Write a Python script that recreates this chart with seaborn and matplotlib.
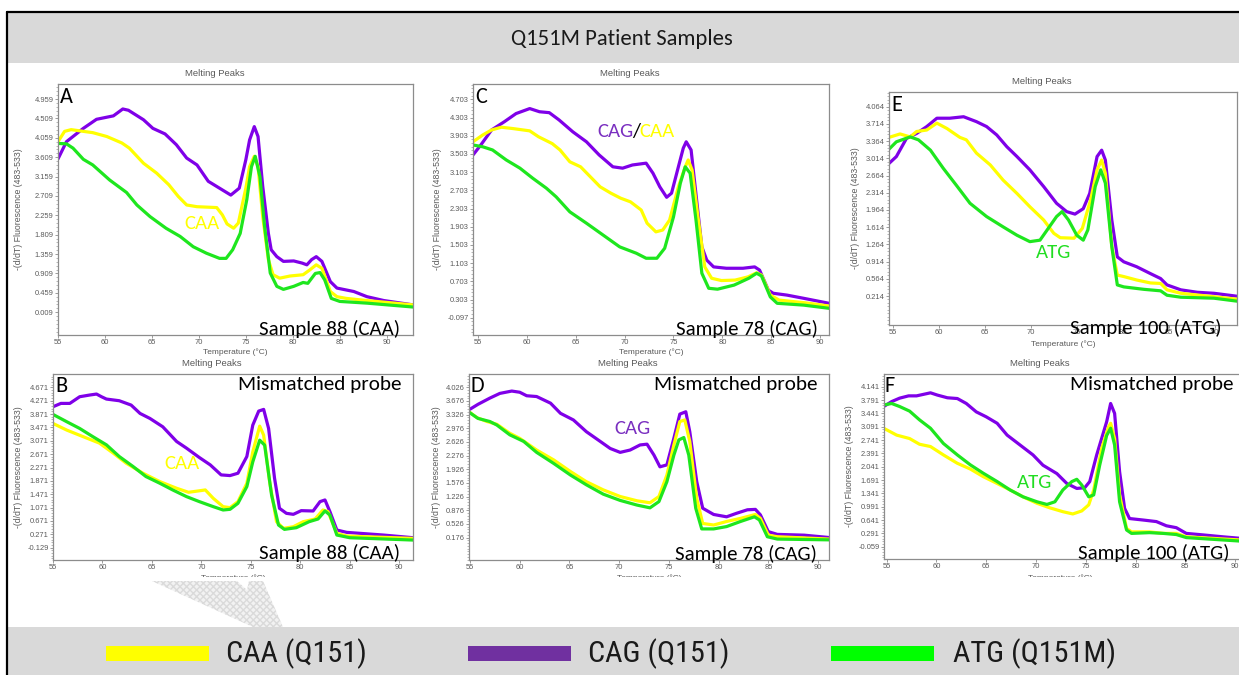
import matplotlib
matplotlib.use("Agg")
import matplotlib.pyplot as plt
import seaborn as sns
from matplotlib import font_manager
from matplotlib.patches import Rectangle, Polygon
from matplotlib.lines import Line2D
from matplotlib.transforms import Affine2D, offset_copy
from matplotlib.ticker import AutoMinorLocator, FixedLocator

# ---------------------------------------------------------------- data
# Melting-peak traces: (temperature °C, -(d/dT) fluorescence)
A_CAG = [(55.0, 3.57), (55.9, 3.97), (57.7, 4.28), (59.1, 4.49), (60.9, 4.57), (61.9, 4.73), (62.5, 4.70),
         (64.1, 4.48), (65.1, 4.28), (66.4, 4.15), (67.6, 3.90), (68.7, 3.59), (69.8, 3.43), (71.0, 3.05),
         (72.2, 2.89), (73.4, 2.73), (74.3, 2.89), (75.0, 3.55), (75.4, 4.01), (75.9, 4.32), (76.3, 4.09),
         (76.8, 2.93), (77.4, 1.84), (77.7, 1.46), (78.3, 1.30), (79.0, 1.19), (80.1, 1.20), (81.0, 1.15),
         (81.5, 1.11), (82.0, 1.23), (82.5, 1.30), (83.1, 1.19), (84.0, 0.72), (84.7, 0.57), (86.5, 0.49),
         (87.9, 0.37), (89.7, 0.28), (92.8, 0.18)]
A_CAA = [(55.0, 3.97), (55.7, 4.21), (56.4, 4.25), (57.7, 4.21), (58.7, 4.18), (60.2, 4.09), (61.8, 3.94),
         (62.6, 3.82), (64.1, 3.47), (65.5, 3.24), (66.8, 2.97), (67.8, 2.70), (68.7, 2.50), (69.8, 2.46),
         (71.9, 2.44), (72.5, 2.27), (73.0, 2.06), (73.7, 1.96), (74.2, 2.08), (75.0, 2.89), (75.4, 3.39),
         (75.9, 3.63), (76.3, 3.39), (76.8, 2.23), (77.4, 1.23), (77.9, 0.88), (78.6, 0.80), (79.7, 0.85),
         (81.1, 0.88), (81.8, 0.99), (82.5, 1.11), (83.1, 1.03), (84.0, 0.49), (84.7, 0.37), (85.7, 0.33),
         (87.9, 0.28), (92.8, 0.18)]
A_ATG = [(55.0, 3.93), (55.9, 3.92), (56.6, 3.82), (57.7, 3.56), (58.7, 3.43), (60.5, 3.08), (62.3, 2.79),
         (63.4, 2.50), (64.8, 2.23), (66.5, 1.96), (68.0, 1.77), (69.4, 1.53), (70.8, 1.38), (72.2, 1.26),
         (72.9, 1.26), (73.6, 1.46), (74.4, 1.84), (75.1, 2.62), (75.6, 3.39), (76.0, 3.63), (76.5, 3.16),
         (77.0, 2.00), (77.6, 0.92), (78.3, 0.61), (79.0, 0.54), (80.1, 0.61), (81.1, 0.70), (81.6, 0.68),
         (82.4, 0.91), (82.9, 0.93), (83.4, 0.76), (84.1, 0.33), (85.0, 0.26), (87.9, 0.22), (92.8, 0.13)]

C_CAG = [(54.5, 3.48), (55.3, 3.70), (56.4, 4.03), (57.7, 4.21), (58.9, 4.39), (60.3, 4.50), (61.3, 4.43),
         (62.3, 4.41), (63.3, 4.25), (64.7, 3.99), (66.1, 3.77), (67.4, 3.48), (68.8, 3.22), (69.8, 3.19),
         (70.8, 3.26), (72.2, 3.30), (72.9, 3.08), (73.6, 2.78), (74.3, 2.55), (74.8, 2.64), (75.5, 3.22),
         (76.0, 3.63), (76.3, 3.77), (76.8, 3.59), (77.4, 2.42), (77.9, 1.46), (78.4, 1.17), (79.1, 1.02),
         (80.4, 0.99), (82.1, 0.99), (83.3, 1.02), (83.8, 0.95), (84.7, 0.51), (85.2, 0.44), (86.6, 0.40),
         (88.3, 0.33), (90.9, 0.22)]
C_CAA = [(54.5, 3.77), (55.5, 3.92), (56.4, 4.03), (57.4, 4.09), (58.6, 4.06), (60.3, 4.01), (61.2, 3.88),
         (62.6, 3.73), (63.4, 3.59), (64.4, 3.33), (65.5, 3.22), (66.5, 3.00), (67.5, 2.78), (68.6, 2.64),
         (69.6, 2.53), (70.6, 2.45), (71.7, 2.27), (72.3, 1.98), (73.2, 1.79), (73.9, 1.83), (74.6, 2.05),
         (75.5, 2.78), (76.2, 3.22), (76.5, 3.37), (76.9, 3.15), (77.5, 2.12), (78.2, 1.02), (78.9, 0.77),
         (79.9, 0.72), (81.3, 0.73), (82.6, 0.80), (83.5, 0.89), (84.0, 0.84), (84.9, 0.40), (85.8, 0.29),
         (88.5, 0.23), (90.9, 0.16)]
C_ATG = [(54.5, 3.70), (55.5, 3.66), (56.5, 3.59), (57.9, 3.37), (59.3, 3.19), (60.6, 2.97), (62.0, 2.75),
         (63.0, 2.56), (64.4, 2.23), (66.1, 1.98), (67.8, 1.72), (69.5, 1.46), (71.2, 1.32), (72.2, 1.21),
         (73.3, 1.21), (74.1, 1.43), (75.0, 2.12), (75.7, 2.86), (76.2, 3.22), (76.7, 3.08), (77.3, 2.05),
         (77.9, 0.88), (78.6, 0.55), (79.5, 0.53), (81.2, 0.62), (82.7, 0.77), (83.5, 0.88), (84.0, 0.82),
         (84.9, 0.36), (85.6, 0.22), (88.3, 0.18), (90.9, 0.11)]

E_CAG = [(54.6, 2.91), (55.4, 3.05), (56.5, 3.42), (57.6, 3.52), (58.7, 3.66), (59.8, 3.83), (61.2, 3.83),
         (62.7, 3.86), (64.1, 3.76), (65.2, 3.66), (66.3, 3.49), (67.4, 3.25), (68.5, 3.05), (69.9, 2.78),
         (71.4, 2.44), (72.8, 2.10), (73.9, 1.93), (74.8, 1.88), (75.7, 1.99), (76.4, 2.30), (77.2, 3.05),
         (77.7, 3.18), (78.1, 2.98), (78.8, 1.76), (79.4, 1.01), (80.1, 0.91), (81.5, 0.81), (83.0, 0.67),
         (84.1, 0.57), (84.8, 0.44), (86.3, 0.34), (88.1, 0.29), (89.9, 0.27), (92.4, 0.21)]
E_CAA = [(54.6, 3.44), (55.8, 3.51), (56.9, 3.45), (57.6, 3.56), (58.7, 3.59), (59.8, 3.73), (60.9, 3.62),
         (62.3, 3.44), (63.0, 3.39), (64.1, 3.12), (65.6, 2.88), (67.0, 2.57), (68.5, 2.30), (69.9, 2.03),
         (71.4, 1.76), (72.5, 1.49), (73.2, 1.40), (74.7, 1.39), (75.6, 1.59), (76.5, 2.17), (77.2, 2.78),
         (77.7, 2.98), (78.1, 2.71), (78.8, 1.22), (79.4, 0.64), (80.1, 0.61), (81.5, 0.54), (83.0, 0.48),
         (84.1, 0.47), (84.8, 0.34), (86.3, 0.27), (89.9, 0.20), (92.4, 0.15)]
E_ATG = [(54.6, 3.20), (55.4, 3.35), (56.9, 3.45), (57.8, 3.39), (59.1, 3.18), (60.5, 2.81), (61.9, 2.47),
         (63.4, 2.10), (65.2, 1.83), (67.0, 1.62), (68.5, 1.45), (69.9, 1.32), (71.0, 1.35), (71.9, 1.59),
         (72.8, 1.83), (73.4, 1.93), (74.1, 1.76), (75.0, 1.45), (75.7, 1.35), (76.2, 1.56), (77.0, 2.44),
         (77.6, 2.78), (78.1, 2.51), (78.8, 1.22), (79.4, 0.44), (80.1, 0.40), (82.3, 0.35), (84.1, 0.32),
         (84.8, 0.23), (86.3, 0.19), (89.9, 0.17), (92.4, 0.11)]

B_CAG = [(55.0, 4.09), (55.8, 4.19), (56.7, 4.19), (57.7, 4.39), (58.7, 4.44), (59.4, 4.47), (59.9, 4.39),
         (60.4, 4.32), (61.7, 4.27), (62.9, 4.14), (63.8, 3.89), (64.8, 3.74), (66.1, 3.49), (67.5, 3.05),
         (68.5, 2.85), (69.8, 2.57), (70.9, 2.35), (72.0, 2.05), (72.9, 2.03), (73.7, 2.10), (74.6, 2.60),
         (75.2, 3.54), (75.8, 3.96), (76.3, 4.01), (76.8, 3.44), (77.4, 1.95), (77.9, 1.05), (78.6, 0.90),
         (79.3, 0.87), (80.1, 0.98), (81.3, 0.97), (82.0, 1.25), (82.5, 1.30), (83.0, 0.95), (83.7, 0.40),
         (84.7, 0.33), (88.4, 0.25), (91.4, 0.17)]
B_CAA = [(55.0, 3.59), (56.4, 3.39), (58.0, 3.20), (59.7, 3.00), (61.1, 2.70), (62.4, 2.40), (64.1, 2.10),
         (65.8, 1.85), (67.5, 1.65), (68.7, 1.53), (69.7, 1.57), (70.4, 1.60), (71.2, 1.35), (72.2, 1.10),
         (72.9, 1.07), (73.7, 1.25), (74.6, 1.80), (75.2, 2.74), (75.9, 3.51), (76.3, 3.24), (76.9, 1.85),
         (77.6, 0.65), (78.3, 0.45), (79.3, 0.50), (80.3, 0.65), (81.5, 0.73), (82.3, 1.00), (82.8, 0.95),
         (83.7, 0.30), (84.7, 0.22), (91.4, 0.15)]
B_ATG = [(55.0, 3.86), (56.4, 3.64), (57.7, 3.44), (59.0, 3.20), (60.4, 2.95), (61.7, 2.60), (63.1, 2.30),
         (64.4, 2.00), (65.8, 1.80), (67.1, 1.60), (68.5, 1.40), (69.8, 1.25), (71.2, 1.10), (72.2, 1.00),
         (72.9, 1.02), (73.7, 1.20), (74.6, 1.70), (75.2, 2.44), (75.9, 3.09), (76.4, 2.94), (77.1, 1.45),
         (77.8, 0.55), (78.4, 0.42), (79.6, 0.47), (80.9, 0.65), (81.8, 0.73), (82.5, 0.97), (83.0, 0.85),
         (83.7, 0.25), (85.0, 0.17), (91.4, 0.10)]

D_CAG = [(54.9, 3.45), (55.8, 3.59), (57.0, 3.75), (58.0, 3.87), (59.2, 3.93), (60.0, 3.90), (60.7, 3.81),
         (61.7, 3.79), (63.1, 3.62), (64.1, 3.36), (65.4, 3.19), (66.7, 2.89), (68.1, 2.64), (69.1, 2.46),
         (70.1, 2.36), (71.1, 2.42), (72.1, 2.55), (72.8, 2.57), (73.5, 2.29), (74.1, 1.99), (74.8, 2.04),
         (75.5, 2.72), (76.1, 3.34), (76.7, 3.40), (77.1, 2.89), (77.8, 1.61), (78.4, 0.93), (79.5, 0.77),
         (80.8, 0.71), (81.8, 0.80), (82.9, 0.89), (83.7, 0.90), (84.2, 0.76), (85.0, 0.33), (85.9, 0.26),
         (88.6, 0.24), (91.1, 0.18)]
D_CAA = [(54.9, 3.40), (55.7, 3.25), (56.7, 3.15), (57.7, 3.08), (59.0, 2.85), (60.0, 2.72), (61.7, 2.42),
         (63.4, 2.17), (65.1, 1.87), (66.7, 1.61), (68.4, 1.40), (70.1, 1.23), (71.8, 1.12), (73.1, 1.07),
         (74.0, 1.23), (74.8, 1.78), (75.5, 2.55), (76.1, 3.15), (76.6, 3.19), (77.1, 2.64), (77.8, 1.18),
         (78.4, 0.54), (79.5, 0.50), (80.8, 0.59), (82.2, 0.67), (83.7, 0.77), (84.2, 0.67), (85.0, 0.24),
         (85.9, 0.20), (91.1, 0.14)]
D_ATG = [(54.9, 3.39), (55.8, 3.23), (57.0, 3.15), (57.7, 3.06), (59.0, 2.81), (60.4, 2.64), (61.7, 2.36),
         (63.4, 2.08), (65.1, 1.78), (66.7, 1.53), (68.4, 1.29), (70.1, 1.13), (71.8, 1.01), (73.1, 0.94),
         (74.0, 1.10), (74.8, 1.61), (75.5, 2.29), (76.0, 2.68), (76.5, 2.74), (77.0, 2.29), (77.7, 0.93),
         (78.3, 0.40), (79.5, 0.40), (80.8, 0.46), (82.2, 0.59), (83.6, 0.71), (84.1, 0.63), (84.9, 0.20),
         (85.9, 0.14), (91.1, 0.12)]

F_CAG = [(54.7, 3.62), (55.5, 3.75), (56.3, 3.84), (57.2, 3.90), (58.0, 3.90), (58.7, 3.94), (59.4, 3.98),
         (60.1, 3.92), (61.1, 3.85), (62.1, 3.83), (63.0, 3.70), (64.0, 3.48), (65.0, 3.35), (66.1, 3.18),
         (67.1, 2.87), (68.4, 2.61), (69.7, 2.35), (70.7, 2.08), (72.1, 1.86), (73.1, 1.60), (74.1, 1.47),
         (74.9, 1.49), (75.4, 1.65), (76.1, 2.35), (77.1, 3.22), (77.5, 3.70), (77.9, 3.44), (78.4, 1.91),
         (78.9, 0.95), (79.4, 0.68), (80.8, 0.64), (82.1, 0.60), (83.1, 0.49), (84.1, 0.44), (85.1, 0.29),
         (86.8, 0.25), (88.8, 0.20), (91.0, 0.15)]
F_CAA = [(54.7, 3.05), (56.0, 2.87), (57.3, 2.78), (58.3, 2.63), (59.4, 2.57), (60.7, 2.35), (62.1, 2.13),
         (63.4, 1.98), (64.7, 1.78), (66.1, 1.60), (67.4, 1.43), (68.7, 1.25), (70.1, 1.08), (71.4, 0.96),
         (72.7, 0.86), (73.7, 0.80), (74.6, 0.88), (75.3, 1.04), (75.8, 1.43), (76.6, 2.52), (77.3, 3.09),
         (77.5, 3.18), (77.9, 2.78), (78.4, 1.30), (79.1, 0.42), (79.6, 0.33), (81.4, 0.33), (82.8, 0.29),
         (84.1, 0.29), (85.1, 0.20), (91.0, 0.11)]
F_ATG = [(54.7, 3.66), (55.5, 3.70), (56.3, 3.62), (57.3, 3.50), (58.3, 3.27), (59.4, 3.05), (60.7, 2.65),
         (62.1, 2.35), (63.4, 2.09), (64.7, 1.87), (66.1, 1.65), (67.4, 1.43), (68.7, 1.25), (70.1, 1.12),
         (71.1, 1.05), (71.9, 1.12), (72.7, 1.43), (73.6, 1.65), (74.1, 1.71), (74.6, 1.56), (75.3, 1.25),
         (75.8, 1.30), (76.4, 2.08), (77.1, 2.86), (77.5, 3.05), (77.9, 2.61), (78.4, 1.12), (79.1, 0.38),
         (79.6, 0.29), (81.4, 0.31), (82.8, 0.29), (84.1, 0.26), (85.1, 0.18), (91.0, 0.08)]

# axis tick values
X_TICKS = [55, 60, 65, 70, 75, 80, 85, 90]
A_YTICKS = [0.009, 0.459, 0.909, 1.359, 1.809, 2.259, 2.709, 3.159, 3.609, 4.059, 4.509, 4.959]
C_YTICKS = [-0.097, 0.303, 0.703, 1.103, 1.503, 1.903, 2.303, 2.703, 3.103, 3.503, 3.903, 4.303, 4.703]
E_YTICKS = [0.214, 0.564, 0.914, 1.264, 1.614, 1.964, 2.314, 2.664, 3.014, 3.364, 3.714, 4.064]
B_YTICKS = [-0.129, 0.271, 0.671, 1.071, 1.471, 1.871, 2.271, 2.671, 3.071, 3.471, 3.871, 4.271, 4.671]
D_YTICKS = [0.176, 0.526, 0.876, 1.226, 1.576, 1.926, 2.276, 2.626, 2.976, 3.326, 3.676, 4.026]
F_YTICKS = [-0.059, 0.291, 0.641, 0.991, 1.341, 1.691, 2.041, 2.391, 2.741, 3.091, 3.441, 3.791, 4.141]

GENOTYPES = ["CAA (Q151)", "CAG (Q151)", "ATG (Q151M)"]
TITLE = "Q151M Patient Samples"

# ---------------------------------------------------------------- fonts
sns.set_theme(style="white")
names = {f.name for f in font_manager.fontManager.ttflist}


def pick(*cands):
    for c in cands:
        if c in names:
            return c
    return "DejaVu Sans"


# humanist face for captions, condensed face for the legend
CAP = pick("Carlito", "Lato", "Liberation Sans")
COND = pick("Roboto Condensed", "Liberation Sans Narrow", "Lato")
CAP_K = {"Carlito": 1.0, "Lato": 0.92}.get(CAP, 0.85)
COND_PT = {"Roboto Condensed": 21.8, "Liberation Sans Narrow": 22.5, "Lato": 20.5}.get(COND, 18)

plt.rcParams["font.family"] = ["Liberation Sans", "DejaVu Sans"]
plt.rcParams["axes.unicode_minus"] = False

CURVE = {"CAG": "#7f00e8", "CAA": "#ffff00", "ATG": "#1ee61e"}
TEXTC = {"CAG": "#7a2fc0", "CAA": "#ffff00", "ATG": "#22dd22"}
SWATCH = ["#ffff00", "#7030a0", "#00ff00"]
GREY_TXT = "#5a5a5a"
BAND = "#d9d9d9"

W, H = 1239, 675
fig = plt.figure(figsize=(W / 100, H / 100), dpi=100)
fig.patch.set_facecolor("white")
PX = Affine2D().scale(1 / W, -1 / H).translate(0, 1) + fig.transFigure


def px_rect(l, t, r, b):
    return [l / W, 1 - b / H, (r - l) / W, (b - t) / H]


panels = [
    dict(rect=(58, 84, 413, 335), xlim=(55, 92.8), ylim=(-0.52, 5.31), yt=A_YTICKS,
         series=(A_CAG, A_CAA, A_ATG), letter="A", letter_xy=(60, 103),
         sample="Sample 88 (CAA)", sample_xy=(400, 335), mism=None, pad=8, xlab=352,
         note=[("CAA", "CAA", 70.35, 2.06)]),
    dict(rect=(473, 84, 829, 335), xlim=(54.5, 90.9), ylim=(-0.477, 5.04), yt=C_YTICKS,
         series=(C_CAG, C_CAA, C_ATG), letter="C", letter_xy=(475, 103),
         sample="Sample 78 (CAG)", sample_xy=(818, 335), mism=None, pad=4, xlab=352,
         note="slash"),
    dict(rect=(889, 92, 1237, 325), xlim=(54.6, 92.4), ylim=(-0.375, 4.363), yt=E_YTICKS,
         series=(E_CAG, E_CAA, E_ATG), letter="E", letter_xy=(891, 111),
         sample="Sample 100 (ATG)", sample_xy=(1222, 334), mism=None, pad=4, xlab=344,
         note=[("ATG", "ATG", 72.5, 1.10)]),
    dict(rect=(53, 374, 413, 560), xlim=(55, 91.4), ylim=(-0.497, 5.07), yt=B_YTICKS,
         series=(B_CAG, B_CAA, B_ATG), letter="B", letter_xy=(55, 392),
         sample="Sample 88 (CAA)", sample_xy=(400, 559), mism=(402, 390), pad=3, xlab=578,
         note=[("CAA", "CAA", 68.0, 2.40)]),
    dict(rect=(469, 374, 829, 560), xlim=(54.9, 91.1), ylim=(-0.396, 4.367), yt=D_YTICKS,
         series=(D_CAG, D_CAA, D_ATG), letter="D", letter_xy=(470, 392),
         sample="Sample 78 (CAG)", sample_xy=(817, 560), mism=(818, 390), pad=3, xlab=578,
         note=[("CAG", "CAG", 71.3, 2.96)]),
    dict(rect=(884, 374, 1245, 559), xlim=(54.73, 91.0), ylim=(-0.382, 4.474), yt=F_YTICKS,
         series=(F_CAG, F_CAA, F_ATG), letter="F", letter_xy=(884, 392),
         sample="Sample 100 (ATG)", sample_xy=(1230, 559), mism=(1233, 390), pad=3, xlab=578,
         note=[("ATG", "ATG", 69.9, 1.63)]),
]

for p in panels:
    l, t, r, b = p["rect"]
    ax = fig.add_axes(px_rect(l, t, r, b))
    ax.set_facecolor("white")
    for key, trace in zip(("CAG", "CAA", "ATG"), p["series"]):
        temps, vals = zip(*trace)
        sns.lineplot(x=list(temps), y=list(vals), ax=ax, color=CURVE[key], lw=2.3,
                     sort=False, estimator=None, legend=False,
                     solid_joinstyle="round", solid_capstyle="round")
    ax.set_xlim(*p["xlim"])
    ax.set_ylim(*p["ylim"])
    ax.xaxis.set_major_locator(FixedLocator(X_TICKS))
    ax.set_xticklabels([str(v) for v in X_TICKS])
    ax.yaxis.set_major_locator(FixedLocator(p["yt"]))
    ax.set_yticklabels([f"{v:.3f}" for v in p["yt"]])
    ax.yaxis.set_minor_locator(AutoMinorLocator(5))
    ax.tick_params(axis="both", which="major", bottom=True, left=True, length=2.2, width=0.6,
                   color="#8c8c8c", labelsize=5.4, labelcolor=GREY_TXT, pad=1)
    ax.tick_params(axis="y", which="minor", left=True, length=1.2, width=0.5, color="#9a9a9a")
    for s in ax.spines.values():
        s.set_color("#8c8c8c")
        s.set_linewidth(0.9)
    ax.set_ylabel("-(d/dT) Fluorescence (483-533)", fontsize=6.3, color=GREY_TXT, labelpad=p["pad"])
    ax.set_xlabel("")
    mid = (l + min(r, 1237)) / 2
    fig.text(mid - 21, t - 8, "Melting Peaks", transform=PX, ha="center",
             va="baseline", fontsize=6.8, color=GREY_TXT)
    fig.text(mid, p["xlab"], "Temperature (°C)", transform=PX, ha="center",
             va="center", fontsize=6, color=GREY_TXT, zorder=0.8)

    # panel letter and captions
    fig.text(*p["letter_xy"], p["letter"], transform=PX, ha="left", va="baseline",
             fontsize=16 * CAP_K, family=CAP, color="black", zorder=5)
    fig.text(*p["sample_xy"], p["sample"], transform=PX, ha="right", va="baseline",
             fontsize=15 * CAP_K, family=CAP, color="black", zorder=5)
    if p["mism"] is not None:
        fig.text(*p["mism"], "Mismatched probe", transform=PX, ha="right", va="baseline",
                 fontsize=15.3 * CAP_K, family=CAP, color="black", zorder=5)

    if p["note"] == "slash":
        x0, y0 = 71.22, 3.99
        fs = 15 * CAP_K
        ax.text(x0, y0, "/", color="black", fontsize=fs, family=CAP, ha="center", va="center")
        ax.text(x0, y0, "CAG", color=TEXTC["CAG"], fontsize=fs, family=CAP, ha="right", va="center",
                transform=offset_copy(ax.transData, fig=fig, x=-2.3, y=0, units="points"))
        ax.text(x0, y0, "CAA", color=TEXTC["CAA"], fontsize=fs, family=CAP, ha="left", va="center",
                transform=offset_copy(ax.transData, fig=fig, x=2.3, y=0, units="points"))
    else:
        for txt, key, x0, y0 in p["note"]:
            ax.text(x0, y0, txt, color=TEXTC[key], fontsize=15 * CAP_K, family=CAP,
                    ha="center", va="center")

# lower x-axis captions are cut off by the blank strip above the legend
fig.add_artist(Rectangle((8, 577), 1231, 50, transform=PX, facecolor="white",
                         edgecolor="none", zorder=1))
fig.add_artist(Polygon([(152, 581), (237, 581), (247, 590), (249, 581), (263, 581),
                        (283, 627), (253, 627)], closed=True,
                       transform=PX, facecolor="#f2f2f2", edgecolor="#dadada", hatch="xxxxx",
                       linewidth=0, zorder=1.5))

# title band and legend band
fig.add_artist(Rectangle((8, 13), 1231, 50, transform=PX, facecolor=BAND, edgecolor="none", zorder=0.5))
fig.add_artist(Rectangle((8, 627), 1231, 48, transform=PX, facecolor=BAND, edgecolor="none", zorder=0.5))
fig.text(622, 45, TITLE, transform=PX, ha="center", va="baseline", fontsize=16.3 * CAP_K,
         family=CAP, color="#1a1a1a", zorder=3)

swatch_x = [106, 468, 831]
label_x = [226, 588, 953]
for sx, lx, col, lab in zip(swatch_x, label_x, SWATCH, GENOTYPES):
    fig.add_artist(Rectangle((sx, 646), 103, 15, transform=PX, facecolor=col,
                             edgecolor="none", zorder=2))
    fig.text(lx, 654, lab, transform=PX, ha="left", va="center", fontsize=COND_PT,
             family=COND, color="#1a1a1a", zorder=3)

# outer frame (top and left edges)
fig.add_artist(Line2D([7, 7], [12, 675], transform=PX, color="black", lw=1.6, zorder=4))
fig.add_artist(Line2D([7, 1239], [12, 12], transform=PX, color="black", lw=1.6, zorder=4))

fig.savefig("out.png", dpi=100, facecolor="white")
